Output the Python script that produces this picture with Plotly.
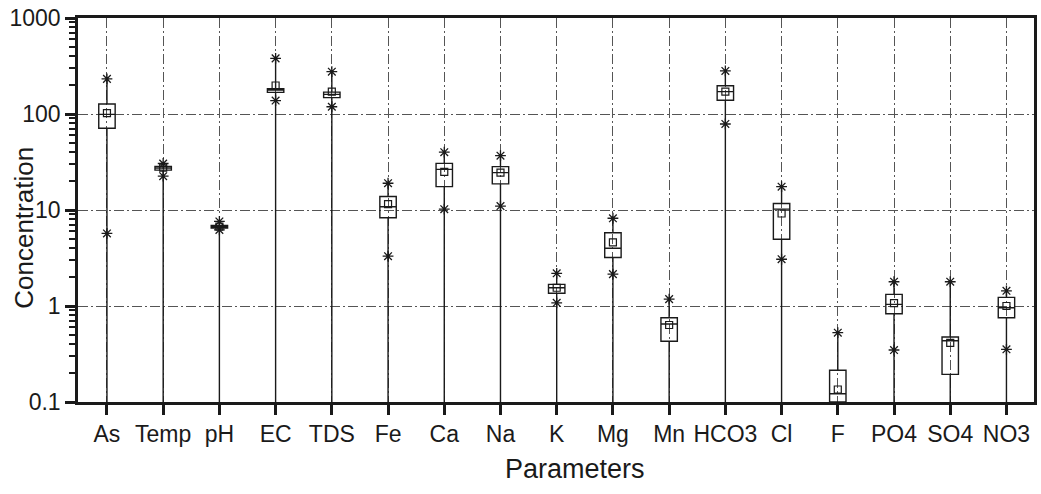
import plotly.graph_objects as go

# Water-quality parameters (log-scale box summary)
params = ["As", "Temp", "pH", "EC", "TDS", "Fe", "Ca", "Na", "K", "Mg",
          "Mn", "HCO3", "Cl", "F", "PO4", "SO4", "NO3"]

q1 = [71, 26.0, 6.5, 168, 148, 8.3, 17.5, 18.7, 1.36, 3.2,
      0.43, 139, 4.95, 0.1, 0.83, 0.194, 0.755]
median = [99, 27.4, 6.7, 178, 160, 10.8, 26.5, 24.5, 1.55, 4.0,
          0.65, 171, 10.2, 0.122, 1.04, 0.435, 0.96]
q3 = [127, 28.5, 6.9, 184, 169, 13.8, 30.6, 28.3, 1.68, 5.8,
      0.755, 197, 11.7, 0.214, 1.32, 0.475, 1.23]
mean = [102, 27.6, 6.7, 198, 171, 11.5, 25.0, 24.5, 1.55, 4.6,
        0.634, 171, 9.2, 0.135, 1.07, 0.412, 1.0]
p99 = [232, 30.5, 7.6, 380, 276, 19.0, 40.0, 36.8, 2.19, 8.2,
       1.18, 281, 17.5, 0.527, 1.79, 1.79, 1.44]
p1 = [5.7, 22.5, 6.2, 138, 119, 3.3, 10.2, 11.0, 1.08, 2.15,
      None, 78.7, 3.07, None, 0.348, None, 0.354]
minimum = [0.05, 0.05, 0.05, 0.05, 0.05, 0.05, 0.05, 0.05, 0.05, 0.05,
           0.05, 0.05, 0.05, 0.05, 0.05, 0.05, 0.05]
maximum = p99

y_ticks = [0.1, 1, 10, 100, 1000]
y_ticktext = ["0.1", "1", "10", "100", "1000"]
y_minor = [m * 10 ** e for e in range(-1, 3) for m in range(2, 10)]

FONT = "Liberation Sans, Arial, Helvetica, sans-serif"
INK = "#1a1a1a"
GRID_DASH = "10px,3px,2px,3px"

fig = go.Figure()

fig.add_trace(go.Box(
    x=params, q1=q1, median=median, q3=q3,
    lowerfence=minimum, upperfence=maximum,
    boxpoints=False, whiskerwidth=0,
    fillcolor="rgba(0,0,0,0)",
    line=dict(color=INK, width=1.4),
    showlegend=False, hoverinfo="skip",
))

# 1st / 99th percentile markers
fig.add_trace(go.Scatter(
    x=params + params, y=p99 + p1, mode="markers",
    marker=dict(symbol="asterisk-open", size=9, color=INK,
                line=dict(color=INK, width=1.3)),
    showlegend=False, hoverinfo="skip",
))

# mean markers
fig.add_trace(go.Scatter(
    x=params, y=mean, mode="markers",
    marker=dict(symbol="square-open", size=7, color=INK,
                line=dict(color=INK, width=1.2)),
    showlegend=False, hoverinfo="skip",
))

fig.update_layout(
    width=1041, height=494,
    margin=dict(l=78, r=4, t=18, b=92),
    paper_bgcolor="white", plot_bgcolor="white",
    boxgap=0.583,
    font=dict(family=FONT, color=INK, size=23),
    xaxis=dict(
        type="category", range=[-0.515, 16.49],
        showline=True, linewidth=2.5, linecolor=INK, mirror=True,
        ticks="outside", ticklen=10, tickwidth=2.5, tickcolor=INK,
        tickfont=dict(size=23, family=FONT, color=INK),
        showgrid=True, gridcolor="#555555", gridwidth=1, griddash=GRID_DASH,
        zeroline=False,
    ),
    yaxis=dict(
        type="log", range=[-1, 3],
        tickmode="array", tickvals=y_ticks, ticktext=y_ticktext,
        showline=True, linewidth=2.5, linecolor=INK, mirror=True,
        ticks="outside", ticklen=10, tickwidth=2.5, tickcolor=INK,
        tickfont=dict(size=23, family=FONT, color=INK),
        showgrid=True, gridcolor="#555555", gridwidth=1, griddash=GRID_DASH,
        zeroline=False,
        minor=dict(tickmode="array", tickvals=y_minor, ticks="outside",
                   ticklen=6, tickwidth=1.5, tickcolor=INK, showgrid=False),
    ),
    annotations=[
        dict(text="Parameters", xref="paper", yref="paper",
             x=0.52, y=-0.175, xanchor="center", yanchor="middle",
             showarrow=False, font=dict(size=27, family=FONT, color=INK)),
        dict(text="Concentration", xref="paper", yref="paper",
             x=-0.056, y=0.455, xanchor="center", yanchor="middle",
             textangle=-90, showarrow=False,
             font=dict(size=26, family=FONT, color=INK)),
    ],
)

fig.write_html("out.html")
